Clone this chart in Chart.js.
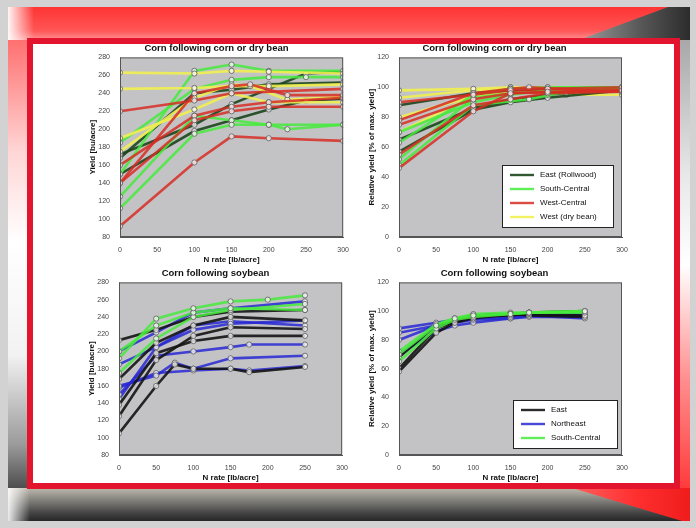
<!DOCTYPE html>
<html>
<head>
<meta charset="utf-8">
<script src="https://cdn.jsdelivr.net/npm/chart.js@4.4.1/dist/chart.umd.min.js"></script>
<style>
  body { margin: 0; width: 696px; height: 528px; background: #d2d2d2; position: relative; overflow: hidden;
         font-family: "Liberation Sans", Arial, sans-serif; }
  .abs { position: absolute; }
  #slide { left: 8px; top: 7px; width: 682px; height: 514px; background: #fff; }
  #topband { left: 8px; top: 7px; width: 682px; height: 34px;
             background: linear-gradient(to right, rgba(255,255,255,0.95) 0px, rgba(255,255,255,0) 26px),
                         linear-gradient(to bottom, #ff3434 0%, #ff5656 70%, #ff9a9a 100%); }
  #topdark { left: 560px; top: 7px; width: 130px; height: 37px;
             clip-path: polygon(108px 0, 130px 0, 130px 37px, 8px 37px);
             background: linear-gradient(to right, #b4b4b4, #5a5a5a 60%, #2c2c2c); }
  #leftstrip { left: 8px; top: 40px; width: 20px; height: 450px;
               background: linear-gradient(to bottom, #ff7070 0%, #ffd6d6 25%, #fff 45%, #f2f2f2 70%, #9a9a9a 90%, #4a4a4a 100%); }
  #rightstrip { left: 679px; top: 40px; width: 11px; height: 450px;
                background: linear-gradient(to bottom, #a8a8a8 0%, #e8e8e8 30%, #fff 50%, #ff9090 75%, #ff3a3a 100%); }
  #bottomband { left: 8px; top: 488px; width: 682px; height: 33px;
                background: linear-gradient(to right, rgba(255,255,255,0.9) 0px, rgba(255,255,255,0) 22px),
                            linear-gradient(to bottom, #bdb9ae 0%, #85847e 35%, #454545 75%, #262626 100%); }
  #bottomred { left: 550px; top: 488px; width: 140px; height: 33px;
               clip-path: polygon(22px 0, 140px 0, 140px 33px, 132px 33px);
               background: linear-gradient(to right, #ff7070, #ff3030 60%, #f01c1c); }
  #frame { left: 27px; top: 38px; width: 653px; height: 451px; box-sizing: border-box;
           border: 6px solid #e2142e; background: #fff; }
  .panel { position: absolute; }
</style>
</head>
<body>
<div id="slide" class="abs"></div>
<div id="topband" class="abs"></div>
<div id="topdark" class="abs"></div>
<div id="leftstrip" class="abs"></div>
<div id="rightstrip" class="abs"></div>
<div id="bottomband" class="abs"></div>
<div id="bottomred" class="abs"></div>
<div id="frame" class="abs"></div>

<div class="panel" style="left:88px;top:40px;width:262px;height:225px"><canvas id="ccYield"></canvas></div>
<div class="panel" style="left:367px;top:40px;width:262px;height:225px"><canvas id="ccRel"></canvas></div>
<div class="panel" style="left:87px;top:265px;width:262px;height:218px"><canvas id="csYield"></canvas></div>
<div class="panel" style="left:367px;top:265px;width:262px;height:218px"><canvas id="csRel"></canvas></div>

<script>
// Eixos
const nRateTicks = [0, 50, 100, 150, 200, 250, 300];
const yieldTicks = [80, 100, 120, 140, 160, 180, 200, 220, 240, 260, 280];
const relTicks = [0, 20, 40, 60, 80, 100, 120];

// Milho após milho / feijão — produtividade (bu/acre)
const ccEastRates = [[0, 100, 150, 200, 250, 300], [0, 100, 150, 200, 250, 300], [0, 100, 150, 200, 300]];
const ccEastYield = [[172, 205, 228, 245, 262, 264], [150, 198, 210, 222, 232, 234], [168, 240, 244, 250, 252]];
const ccSouthRates = [[0, 100, 150, 200, 300], [0, 100, 150, 200, 300], [0, 100, 150, 200, 250, 300], [0, 100, 150, 200, 225, 300]];
const ccSouthYield = [[150, 265, 272, 265, 265], [112, 195, 205, 205, 205], [185, 245, 255, 258, 258, 258], [125, 215, 210, 205, 200, 205]];
const ccWestCRates = [[0, 100, 150, 300], [0, 100, 150, 200, 300], [0, 100, 150, 200, 300], [0, 100, 150, 175, 225, 300], [0, 100, 150, 200, 300]];
const ccWestCYield = [[220, 232, 240, 245], [92, 163, 192, 190, 187], [140, 210, 220, 225, 225], [140, 240, 248, 250, 238, 238], [160, 215, 225, 230, 235]];
const ccBeanRates = [[0, 100, 150, 200, 300], [0, 100, 150, 175, 225, 300], [0, 100, 150, 200, 300], [0, 100, 150, 200, 300]];
const ccBeanYield = [[190, 222, 240, 230, 230], [175, 235, 250, 248, 233, 236], [245, 246, 248, 248, 250], [263, 262, 265, 264, 262]];

// Milho após milho / feijão — produtividade relativa (%)
const ccEastRel = [[65, 86, 92, 95, 100], [57, 85, 90, 93, 98], [88, 96, 98, 99, 100]];
const ccEastRelRates = [[0, 100, 150, 200, 300], [0, 100, 150, 200, 300], [0, 100, 150, 200, 300]];
const ccSouthRel = [[63, 95, 99, 100, 100], [52, 93, 96, 97, 99], [70, 90, 95, 98, 100], [48, 88, 92, 97, 98]];
const ccSouthRelRates = [[0, 100, 150, 200, 300], [0, 100, 150, 200, 300], [0, 100, 150, 200, 300], [0, 100, 175, 225, 300]];
const ccWestCRel = [[46, 84, 96, 97, 98], [55, 88, 92, 96, 97], [90, 95, 98, 99, 100], [78, 96, 99, 100, 97], [75, 92, 96, 98]];
const ccWestCRelRates = [[0, 100, 150, 200, 300], [0, 100, 150, 200, 300], [0, 100, 150, 200, 300], [0, 100, 150, 175, 300], [0, 100, 150, 300]];
const ccBeanRel = [[98, 99, 100, 99, 98], [93, 98, 99, 100, 99], [80, 94, 97, 98], [70, 94, 100, 99, 95, 95]];
const ccBeanRelRates = [[0, 100, 150, 200, 300], [0, 100, 150, 200, 300], [0, 100, 150, 300], [0, 100, 150, 175, 225, 300]];

// Milho após soja — produtividade (bu/acre)
const csEastRates = [[0, 50, 100, 150, 250], [0, 50, 75, 100, 150, 175, 250], [0, 50, 100, 150, 250], [0, 50, 100, 150, 250], [0, 50, 100, 150, 250]];
const csEastYield = [[213, 225, 240, 246, 248], [105, 160, 185, 180, 180, 176, 182], [138, 198, 212, 218, 218], [168, 210, 230, 240, 236], [125, 190, 218, 228, 226]];
const csNERates = [[0, 50, 100, 150, 250], [0, 50, 100, 150, 250], [0, 50, 100, 150, 175, 250], [0, 50, 75, 100, 150, 250], [0, 50, 100, 150, 175, 250], [0, 50, 100, 150, 250]];
const csNEYield = [[200, 222, 245, 250, 258], [185, 205, 225, 232, 236], [150, 195, 200, 205, 208, 208], [160, 172, 187, 180, 192, 195], [158, 175, 178, 180, 178, 183], [145, 205, 230, 235, 230]];
const csSouthRates = [[0, 50, 100, 150, 200, 250], [0, 50, 100, 150, 250], [0, 50, 100, 150, 250]];
const csSouthYield = [[192, 238, 250, 258, 260, 265], [200, 230, 245, 250, 248], [175, 215, 240, 248, 255]];

// Milho após soja — produtividade relativa (%)
const csRelRates = [0, 50, 75, 100, 150, 175, 250];
const csEastRel = [[58, 85, 92, 95, 98, 99, 100], [60, 88, 93, 96, 97, 98, 97], [68, 90, 94, 97, 98, 97, 96]];
const csNERel = [[88, 92, 94, 97, 98, 99, 97], [85, 90, 93, 95, 96, 97, 95], [80, 90, 92, 94, 95, 96, 96], [70, 86, 90, 92, 95, 97, 98]];
const csSouthRel = [[70, 90, 95, 97, 98, 99, 100], [65, 88, 94, 96, 98, 99, 99], [72, 91, 95, 98, 99, 99, 100]];

// Cores das regiões
const colEast = 'rgba(28,70,28,0.9)';
const colSouth = 'rgba(70,235,60,0.85)';
const colWestC = 'rgba(215,45,35,0.85)';
const colBean = 'rgba(240,240,80,0.9)';
const colBlack = 'rgba(20,20,20,0.9)';
const colNE = 'rgba(40,40,210,0.85)';

function series(ratesList, valuesList, color) {
    return valuesList.map((vals, i) => ({
        data: vals.map((v, j) => ({ x: ratesList[i][j], y: v })),
        borderColor: color,
        borderWidth: 2.6,
        pointRadius: 2.6,
        pointBackgroundColor: 'rgba(245,245,245,0.8)',
        pointBorderColor: 'rgba(90,90,90,0.8)',
        pointBorderWidth: 1,
        tension: 0
    }));
}

// fundo cinza da área do gráfico + caixa + legenda
const plotBox = {
    id: 'plotBox',
    beforeDatasetsDraw(chart) {
        const a = chart.chartArea, ctx = chart.ctx;
        ctx.save();
        ctx.fillStyle = '#c3c3c5';
        ctx.fillRect(a.left, a.top, a.right - a.left, a.bottom - a.top);
        ctx.restore();
    },
    afterDraw(chart, args, opts) {
        const a = chart.chartArea, ctx = chart.ctx;
        ctx.save();
        ctx.strokeStyle = '#555';
        ctx.lineWidth = 1;
        ctx.strokeRect(a.left + 0.5, a.top + 0.5, a.right - a.left - 1, a.bottom - a.top - 1);
        const items = opts.items || [];
        if (items.length) {
            const w = opts.width, h = items.length * 14 + 6;
            const x = a.right - w - opts.right, y = a.bottom - h - opts.bottom;
            ctx.fillStyle = '#fff';
            ctx.fillRect(x, y, w, h);
            ctx.strokeStyle = '#222';
            ctx.strokeRect(x + 0.5, y + 0.5, w, h);
            ctx.font = '8px "Liberation Sans", Arial, sans-serif';
            ctx.textBaseline = 'middle';
            items.forEach((it, i) => {
                const cy = y + 10 + i * 14;
                ctx.strokeStyle = it.color;
                ctx.lineWidth = 2.4;
                ctx.beginPath();
                ctx.moveTo(x + 8, cy);
                ctx.lineTo(x + 32, cy);
                ctx.stroke();
                ctx.fillStyle = '#111';
                ctx.fillText(it.label, x + 38, cy);
            });
        }
        ctx.restore();
    }
};

function makeChart(id, datasets, title, yTitle, yTicks, padRight, legend) {
    new Chart(document.getElementById(id), {
        type: 'line',
        data: { datasets: datasets },
        options: {
            responsive: true,
            maintainAspectRatio: false,
            animation: false,
            layout: { padding: { left: 0, right: padRight, top: 0, bottom: 0 } },
            plugins: {
                legend: { display: false },
                tooltip: { enabled: false },
                title: {
                    display: true, text: title, color: '#111',
                    font: { size: 9.5, weight: 'bold', family: '"Liberation Sans", Arial, sans-serif' },
                    padding: { top: 3, bottom: 3 }
                },
                plotBox: legend
            },
            scales: {
                x: {
                    type: 'linear', min: 0, max: 300,
                    afterBuildTicks: s => { s.ticks = nRateTicks.map(v => ({ value: v })); },
                    afterFit: s => { s.height = 28; },
                    grid: { display: false },
                    border: { color: '#555' },
                    ticks: { color: '#444', font: { size: 7 }, padding: 1, maxRotation: 0 },
                    title: { display: true, text: 'N rate [lb/acre]', color: '#111', padding: { top: 1, bottom: 0 },
                             font: { size: 8, weight: 'bold' } }
                },
                y: {
                    min: yTicks[0], max: yTicks[yTicks.length - 1],
                    afterBuildTicks: s => { s.ticks = yTicks.map(v => ({ value: v })); },
                    afterFit: s => { s.width = 32; },
                    grid: { display: false },
                    border: { color: '#555' },
                    ticks: { color: '#444', font: { size: 7 }, padding: 2 },
                    title: { display: true, text: yTitle, color: '#111', padding: 0,
                             font: { size: 8, weight: 'bold' } }
                }
            }
        },
        plugins: [plotBox]
    });
}

window.onload = function () {
    makeChart('ccYield', [
        ...series(ccWestCRates, ccWestCYield, colWestC),
        ...series(ccBeanRates, ccBeanYield, colBean),
        ...series(ccSouthRates, ccSouthYield, colSouth),
        ...series(ccEastRates, ccEastYield, colEast)
    ], 'Corn following corn or dry bean', 'Yield [bu/acre]', yieldTicks, 5, {});

    makeChart('ccRel', [
        ...series(ccWestCRelRates, ccWestCRel, colWestC),
        ...series(ccSouthRelRates, ccSouthRel, colSouth),
        ...series(ccEastRelRates, ccEastRel, colEast),
        ...series(ccBeanRelRates, ccBeanRel, colBean)
    ], 'Corn following corn or dry bean', 'Relative yield [% of max. yield]', relTicks, 7, {
        width: 111, right: 9, bottom: 10,
        items: [
            { label: 'East (Rollwood)', color: colEast },
            { label: 'South-Central', color: colSouth },
            { label: 'West-Central', color: colWestC },
            { label: 'West (dry bean)', color: colBean }
        ]
    });

    makeChart('csYield', [
        ...series(csSouthRates, csSouthYield, colSouth),
        ...series(csEastRates, csEastYield, colBlack),
        ...series(csNERates, csNEYield, colNE)
    ], 'Corn following soybean', 'Yield [bu/acre]', yieldTicks, 5, {});

    const relRates = n => Array.from({ length: n }, () => csRelRates);
    makeChart('csRel', [
        ...series(relRates(csSouthRel.length), csSouthRel, colSouth),
        ...series(relRates(csEastRel.length), csEastRel, colBlack),
        ...series(relRates(csNERel.length), csNERel, colNE)
    ], 'Corn following soybean', 'Relative yield [% of max. yield]', relTicks, 7, {
        width: 104, right: 5, bottom: 7,
        items: [
            { label: 'East', color: colBlack },
            { label: 'Northeast', color: colNE },
            { label: 'South-Central', color: colSouth }
        ]
    });
};
</script>
</body>
</html>
